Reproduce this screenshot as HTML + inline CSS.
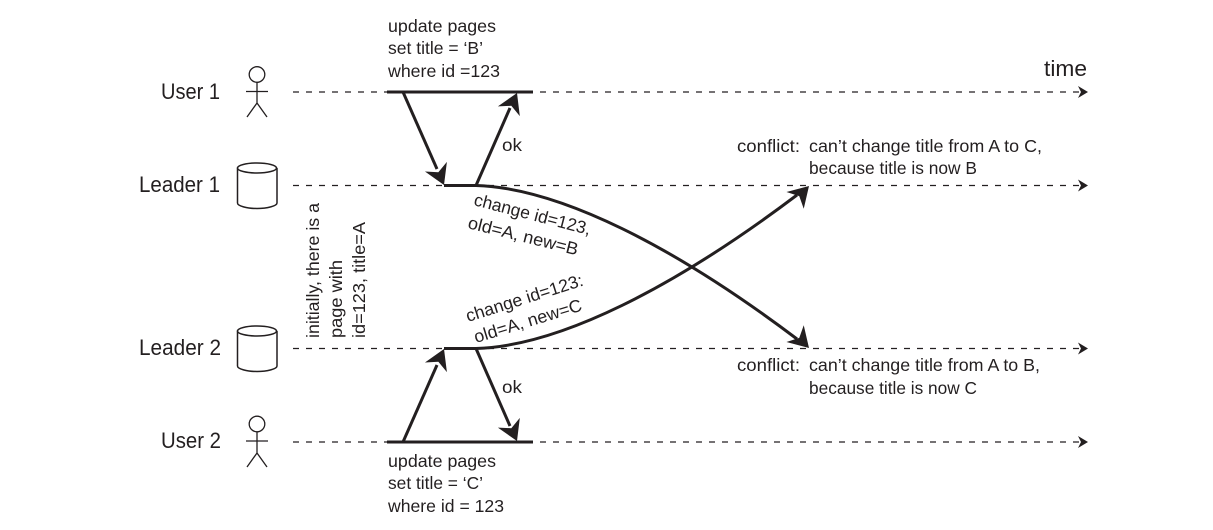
<!DOCTYPE html>
<html><head><meta charset="utf-8"><style>
html,body{margin:0;padding:0;background:#fff}
svg{display:block}
text{font-family:"Liberation Sans",sans-serif;font-size:17.500px;fill:#231f20}
.b{font-size:22px}
.d{stroke:#231f20;stroke-width:1.2;stroke-dasharray:6 7;fill:none}
.t{stroke:#231f20;stroke-width:3;fill:none}
.s{stroke:#231f20;stroke-width:1.3;fill:none}
.c{stroke:#231f20;stroke-width:1.5;fill:#fff}
.h{fill:#231f20}
</style></head><body>
<svg xmlns="http://www.w3.org/2000/svg" width="1213" height="530" viewBox="0 0 1213 530">
<rect width="1213" height="530" fill="#fff"/>
<line class="d" x1="293" y1="92" x2="1080" y2="92"/>
<line class="d" x1="293" y1="185.5" x2="1080" y2="185.5"/>
<line class="d" x1="293" y1="348.5" x2="1080" y2="348.5"/>
<line class="d" x1="293" y1="442" x2="1080" y2="442"/>
<g class="h">
<polygon points="1088,92 1078,86 1081,92 1078,98"/>
<polygon points="1088,185.5 1078,179.5 1081,185.5 1078,191.5"/>
<polygon points="1088,348.5 1078,342.5 1081,348.5 1078,354.5"/>
<polygon points="1088,442 1078,436 1081,442 1078,448"/>
</g>
<g class="s">
<circle cx="257" cy="74.500" r="7.800"/><path d="M257 82V103M246 91.500H268M247 117L257 103L267 117"/>
<circle cx="257" cy="424" r="7.800"/><path d="M257 432V453M246 441H268M247 467L257 453L267 467"/>
</g>
<g class="c">
<path d="M237.500 168V203C237.500 206 247 208.500 257 208.500S277 206 277 203V168"/><ellipse cx="257" cy="168" rx="19.500" ry="5"/>
<path d="M237.500 331V366C237.500 369 247 371.500 257 371.500S277 369 277 366V331"/><ellipse cx="257" cy="331" rx="19.500" ry="5"/>
</g>
<g class="t">
<path d="M387 92H533"/><path d="M387 442H533"/>
<path d="M444 185.500H476"/><path d="M444 348.500H476"/>
<path d="M403 92L437 169"/><path d="M476 185.500L510 108"/>
<path d="M403 442L437 365"/><path d="M476 348.500L510 426"/>
<path d="M476 185.500C560 188 675 247 797 339"/>
<path d="M476 348.500C560 346 675 287 797 195"/>
</g>
<g class="h">
<polygon points="0,0 -20,-12 -14,0 -20,12" transform="translate(444,185) rotate(66.200)"/>
<polygon points="0,0 -20,-12 -14,0 -20,12" transform="translate(517,93) rotate(-66)"/>
<polygon points="0,0 -20,-12 -14,0 -20,12" transform="translate(444,349) rotate(-66.200)"/>
<polygon points="0,0 -20,-12 -14,0 -20,12" transform="translate(517,441) rotate(66)"/>
<polygon points="0,0 -20,-12 -14,0 -20,12" transform="translate(809,186) rotate(-46)"/>
<polygon points="0,0 -20,-12 -14,0 -20,12" transform="translate(809,348) rotate(46)"/>
</g>
<text class="b" x="161" y="99" textLength="59" lengthAdjust="spacingAndGlyphs">User 1</text>
<text class="b" x="139" y="192" textLength="81" lengthAdjust="spacingAndGlyphs">Leader 1</text>
<text class="b" x="139" y="355" textLength="82" lengthAdjust="spacingAndGlyphs">Leader 2</text>
<text class="b" x="161" y="448" textLength="60" lengthAdjust="spacingAndGlyphs">User 2</text>
<text class="b" x="1044" y="76" textLength="43" lengthAdjust="spacingAndGlyphs">time</text>
<text x="388" y="32" textLength="108" lengthAdjust="spacingAndGlyphs">update pages</text>
<text x="388" y="54" textLength="95" lengthAdjust="spacingAndGlyphs">set title = ‘B’</text>
<text x="388" y="77" textLength="112" lengthAdjust="spacingAndGlyphs">where id =123</text>
<text x="388" y="467" textLength="108" lengthAdjust="spacingAndGlyphs">update pages</text>
<text x="388" y="489" textLength="95" lengthAdjust="spacingAndGlyphs">set title = ‘C’</text>
<text x="388" y="512" textLength="116" lengthAdjust="spacingAndGlyphs">where id = 123</text>
<text x="502" y="151" textLength="20" lengthAdjust="spacingAndGlyphs">ok</text>
<text x="502" y="393" textLength="20" lengthAdjust="spacingAndGlyphs">ok</text>
<text x="737" y="152" textLength="63" lengthAdjust="spacingAndGlyphs">conflict:</text>
<text x="809" y="152" textLength="233" lengthAdjust="spacingAndGlyphs">can’t change title from A to C,</text>
<text x="809" y="174" textLength="168" lengthAdjust="spacingAndGlyphs">because title is now B</text>
<text x="737" y="371" textLength="63" lengthAdjust="spacingAndGlyphs">conflict:</text>
<text x="809" y="371" textLength="231" lengthAdjust="spacingAndGlyphs">can’t change title from A to B,</text>
<text x="809" y="394" textLength="168" lengthAdjust="spacingAndGlyphs">because title is now C</text>
<text transform="translate(319,338) rotate(-90)" textLength="135" lengthAdjust="spacingAndGlyphs">initially, there is a</text>
<text transform="translate(342,338) rotate(-90)" textLength="78" lengthAdjust="spacingAndGlyphs">page with</text>
<text transform="translate(365,338) rotate(-90)" textLength="116" lengthAdjust="spacingAndGlyphs">id=123, title=A</text>
<text transform="translate(473,205) rotate(14.500)" textLength="120" lengthAdjust="spacingAndGlyphs">change id=123,</text>
<text transform="translate(467,228) rotate(14)" textLength="113" lengthAdjust="spacingAndGlyphs">old=A, new=B</text>
<text transform="translate(468,322) rotate(-17.500)" textLength="122" lengthAdjust="spacingAndGlyphs">change id=123:</text>
<text transform="translate(476,343) rotate(-17)" textLength="112" lengthAdjust="spacingAndGlyphs">old=A, new=C</text>
</svg>
</body></html>
